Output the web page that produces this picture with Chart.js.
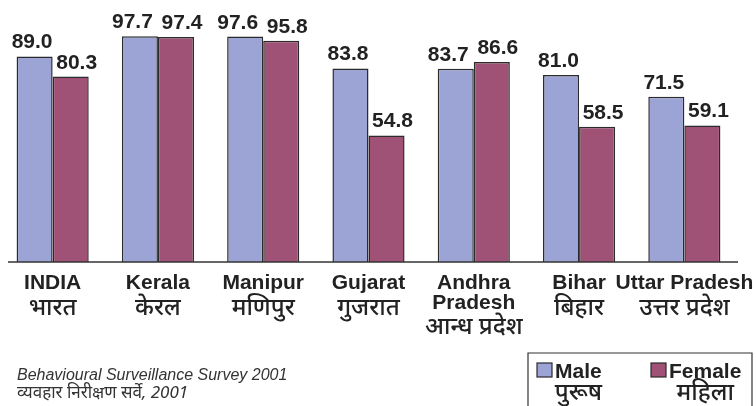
<!DOCTYPE html>
<html>
<head>
<meta charset="utf-8">
<script src="https://cdn.jsdelivr.net/npm/chart.js@4.4.1/dist/chart.umd.min.js"></script>
<style>
  html, body { margin: 0; padding: 0; background: #fff; }
  #wrap { width: 756px; height: 406px; position: relative; }
</style>
</head>
<body>
<div id="wrap"><canvas id="chart" width="756" height="406"></canvas></div>
<script>
// ============================
// DATA
// ============================
const statesEn = [["INDIA"], ["Kerala"], ["Manipur"], ["Gujarat"], ["Andhra", "Pradesh"], ["Bihar"], ["Uttar Pradesh"]];
const statesHi = ["भारत", "केरल", "मणिपुर", "गुजरात", "आन्ध प्रदेश", "बिहार", "उत्तर प्रदेश"];
const maleValues = [89.0, 97.7, 97.6, 83.8, 83.7, 81.0, 71.5];
const femaleValues = [80.3, 97.4, 95.8, 54.8, 86.6, 58.5, 59.1];
const seriesEn = ["Male", "Female"];
const seriesHi = ["पुरूष", "महिला"];
const sourceLines = ["Behavioural Surveillance Survey 2001", "व्यवहार निरीक्षण सर्वे, 2001"];

const MALE = "#9ba4d4";
const FEMALE = "#9f5275";
const EDGE = "#2b2b2b";
const TEXT = "#222";
const SANS = "'Liberation Sans', Arial, sans-serif";
const HINDI = "'Noto Sans', 'Noto Sans Devanagari', sans-serif";

// ============================
// DRAWING PLUGIN
// ============================
const labelShift = [-2.5, 6];

const decorations = {
  id: "decorations",
  afterDatasetsDraw(chart){
    const ctx = chart.ctx;
    const area = chart.chartArea;
    const x = chart.scales.x;
    ctx.save();

    // baseline
    ctx.strokeStyle = "#333";
    ctx.lineWidth = 1.5;
    ctx.beginPath();
    ctx.moveTo(8, area.bottom);
    ctx.lineTo(738, area.bottom);
    ctx.stroke();

    // value labels (pushed apart when a pair sits at the same height)
    ctx.fillStyle = TEXT;
    ctx.font = "bold 21px " + SANS;
    ctx.textAlign = "center";
    ctx.textBaseline = "alphabetic";
    const mBars = chart.getDatasetMeta(0).data;
    const fBars = chart.getDatasetMeta(1).data;
    mBars.forEach((bar, j) => {
      const clash = Math.abs(bar.y - fBars[j].y) < 20;
      ctx.fillText(maleValues[j].toFixed(1), bar.x + labelShift[0] - (clash ? 5 : 0), bar.y - 8);
      ctx.fillText(femaleValues[j].toFixed(1), fBars[j].x + labelShift[1], fBars[j].y - 8);
    });

    // category labels
    statesEn.forEach((lines, i) => {
      const cx = x.getPixelForValue(i);
      ctx.font = "bold 21px " + SANS;
      lines.forEach((t, k) => ctx.fillText(t, cx, 289 + k * 20));
      ctx.font = "500 24px " + HINDI;
      ctx.fillText(statesHi[i], cx, lines.length > 1 ? 334 : 315);
    });

    // source note
    ctx.textAlign = "left";
    ctx.fillStyle = "#333";
    ctx.font = "italic 16px " + SANS;
    ctx.fillText(sourceLines[0], 17, 380);
    ctx.font = "italic 17px " + HINDI;
    ctx.fillText(sourceLines[1], 17, 398);

    // legend box
    ctx.strokeStyle = "#333";
    ctx.lineWidth = 1.2;
    ctx.beginPath();
    ctx.moveTo(528, 410);
    ctx.lineTo(528, 353);
    ctx.lineTo(752, 353);
    ctx.lineTo(752, 410);
    ctx.stroke();

    const legendX = [537, 651];
    chart.data.datasets.forEach((ds, i) => {
      const lx = legendX[i];
      ctx.fillStyle = ds.backgroundColor;
      ctx.fillRect(lx, 363, 15, 14);
      ctx.strokeStyle = EDGE;
      ctx.lineWidth = 1.2;
      ctx.strokeRect(lx, 363, 15, 14);
      ctx.fillStyle = TEXT;
      ctx.textAlign = "left";
      ctx.font = "bold 21px " + SANS;
      ctx.fillText(seriesEn[i], lx + 18, 378);
      const w = ctx.measureText(seriesEn[i]).width;
      ctx.textAlign = "center";
      ctx.font = "500 24px " + HINDI;
      ctx.fillText(seriesHi[i], lx + 18 + w / 2, 400);
    });

    ctx.restore();
  }
};

// ============================
// CHART
// ============================
new Chart(document.getElementById("chart"), {
  type: "bar",
  data: {
    labels: statesEn.map(l => l.join(" ")),
    datasets: [
      {
        label: seriesEn[0],
        data: maleValues,
        backgroundColor: MALE,
        borderColor: EDGE,
        borderWidth: 1.5
      },
      {
        label: seriesEn[1],
        data: femaleValues,
        backgroundColor: FEMALE,
        borderColor: EDGE,
        borderWidth: 1.5
      }
    ]
  },
  options: {
    responsive: false,
    animation: false,
    layout: { padding: { left: 0, right: 19, top: 31, bottom: 144 } },
    datasets: { bar: { categoryPercentage: 0.685, barPercentage: 1.0 } },
    plugins: {
      legend: { display: false },
      tooltip: { enabled: false }
    },
    scales: {
      x: { display: false },
      y: { display: false, min: 0, max: 100 }
    }
  },
  plugins: [decorations]
});
</script>
</body>
</html>
